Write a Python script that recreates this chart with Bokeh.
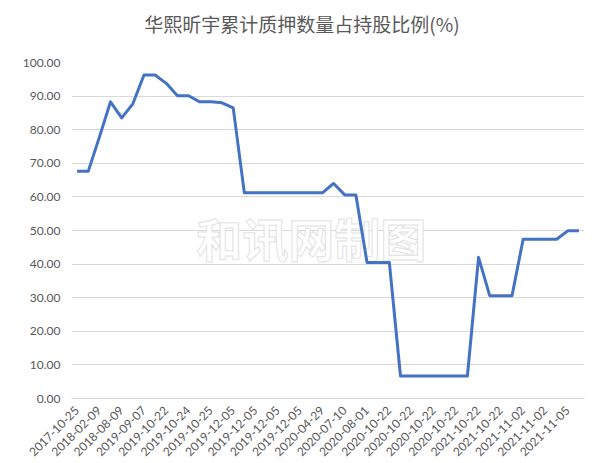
from bokeh.plotting import figure
from bokeh.models import Range1d, FixedTicker, NumeralTickFormatter, Label, Div
from bokeh.layouts import column
from bokeh.embed import file_html
from bokeh.resources import INLINE
import math

title_text = "华熙昕宇累计质押数量占持股比例(%)"

tick_labels = ["2017-10-25", "2018-02-09", "2018-08-09", "2019-09-07", "2019-10-22",
               "2019-10-24", "2019-10-25", "2019-12-05", "2019-12-05", "2019-12-05",
               "2019-12-05", "2020-04-29", "2020-07-10", "2020-08-01", "2020-10-22",
               "2020-10-22", "2020-10-22", "2020-10-22", "2021-10-22", "2021-10-22",
               "2021-11-02", "2021-11-02", "2021-11-05"]

values = [67.6, 67.6, 77.8, 88.3, 83.5, 87.7, 96.3, 96.3, 93.8, 90.1,
          90.1, 88.3, 88.3, 88.0, 86.5, 61.2, 61.2, 61.2, 61.2, 61.2,
          61.2, 61.2, 61.2, 64.0, 60.6, 60.6, 40.5, 40.5, 40.5, 6.7,
          6.7, 6.7, 6.7, 6.7, 6.7, 6.7, 42.0, 30.6, 30.6, 30.6,
          47.4, 47.4, 47.4, 47.4, 49.9, 49.9]

y_ticks = [0, 10, 20, 30, 40, 50, 60, 70, 80, 90, 100]

n = len(values)
xs = list(range(n))

title_div = Div(text=title_text, width=604, height=47, margin=(0, 0, 0, 0),
                styles={"font-family": "'Noto Sans CJK SC'", "font-size": "19px",
                        "color": "#595959", "text-align": "center",
                        "line-height": "47px", "white-space": "nowrap"})

p = figure(frame_width=513, frame_height=336, output_backend="svg", toolbar_location=None,
           x_range=Range1d(-0.5, n - 0.5), y_range=Range1d(0, 100),
           min_border_left=71, min_border_right=18, min_border_top=15,
           min_border_bottom=48, background_fill_color="white",
           border_fill_color="white")

p.outline_line_color = None

# watermark
wm = Label(x=21, y=48, text="和讯网制图", text_font="Noto Sans CJK SC",
           text_font_size="46px", text_color="white", text_outline_color="#e2e2e2",
           text_font_style="bold", text_align="center",
           text_baseline="middle", level="underlay")
p.add_layout(wm)

p.line(xs, values, line_color="#4472C4", line_width=3, line_join="round")

# y axis
p.yaxis.ticker = FixedTicker(ticks=y_ticks)
p.yaxis.formatter = NumeralTickFormatter(format="0.00")
p.yaxis.axis_line_color = None
p.yaxis.major_tick_line_color = None
p.yaxis.minor_tick_line_color = None
p.yaxis.major_label_text_font = "Lato"
p.yaxis.major_label_text_font_size = "12px"
p.yaxis.major_label_text_color = "#595959"
p.yaxis.major_label_standoff = 5

# x axis
tick_pos = [2 * k for k in range(len(tick_labels))]
p.xaxis.ticker = FixedTicker(ticks=tick_pos)
p.xaxis.major_label_overrides = {t: lab for t, lab in zip(tick_pos, tick_labels)}
p.xaxis.major_label_orientation = math.pi / 4
p.xaxis.axis_line_color = "#d9d9d9"
p.xaxis.axis_line_width = 1
p.xaxis.major_tick_line_color = None
p.xaxis.minor_tick_line_color = None
p.xaxis.major_label_text_font = "Lato"
p.xaxis.major_label_text_font_size = "12px"
p.xaxis.major_label_text_color = "#595959"
p.xaxis.major_label_standoff = 4

p.xgrid.grid_line_color = None
p.ygrid.grid_line_color = "#d9d9d9"
p.ygrid.grid_line_width = 1

layout = column(title_div, p, spacing=0)

open("out.html", "w").write(file_html(layout, INLINE))
